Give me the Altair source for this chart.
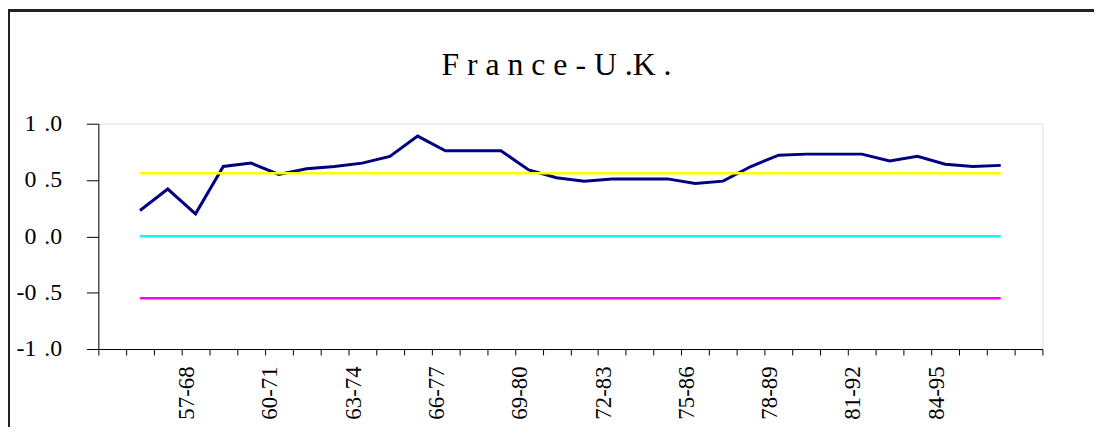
import json
import altair as alt
import pandas as pd

# ---- data ----
periods = [
    "54-65", "55-66", "56-67", "57-68", "58-69", "59-70", "60-71", "61-72",
    "62-73", "63-74", "64-75", "65-76", "66-77", "67-78", "68-79", "69-80",
    "70-81", "71-82", "72-83", "73-84", "74-85", "75-86", "76-87", "77-88",
    "78-89", "79-90", "80-91", "81-92", "82-93", "83-94", "84-95", "85-96",
    "86-97", "87-98",
]
france_uk = [
    None, 0.23, 0.42, 0.20, 0.62, 0.65, 0.55, 0.60, 0.62, 0.65, 0.71, 0.89,
    0.76, 0.76, 0.76, 0.59, 0.52, 0.49, 0.51, 0.51, 0.51, 0.47, 0.49, 0.62,
    0.72, 0.73, 0.73, 0.73, 0.67, 0.71, 0.64, 0.62, 0.63, None,
]
shown_labels = ["57-68", "60-71", "63-74", "66-77", "69-80", "72-83",
                "75-86", "78-89", "81-92", "84-95"]
band_names = ["upper", "zero", "lower"]
band_levels = [0.56, 0.0, -0.55]
band_colors = ["#FFFF00", "#00FFFF", "#FF00FF"]
y_ticks = [-1.0, -0.5, 0.0, 0.5, 1.0]

# ---- tables ----
present = [i for i, v in enumerate(france_uk) if v is not None]
main_df = pd.DataFrame({
    "i": present,
    "period": [periods[i] for i in present],
    "value": [france_uk[i] for i in present],
})
band_rows = []
for name, level in zip(band_names, band_levels):
    for i in present:
        band_rows.append({"i": i, "period": periods[i], "series": name, "value": level})
band_df = pd.DataFrame(band_rows)

FONT = "Liberation Serif"
n = len(periods)
x_scale = alt.Scale(domain=[-0.5, n - 0.5], nice=False, zero=False)
y_scale = alt.Scale(domain=[-1, 1], nice=False, zero=False)

periods_js = json.dumps(periods)
shown_js = json.dumps(shown_labels)
x_label_expr = (
    f"indexof({shown_js}, {periods_js}[round(datum.value + 0.5)]) >= 0 ? "
    f"{periods_js}[round(datum.value + 0.5)] : ''"
)
x_tick_values = [k - 0.5 for k in range(n + 1)]

x_axis = alt.Axis(
    values=x_tick_values,
    tickCount=len(x_tick_values),
    labelExpr=x_label_expr,
    labelAngle=270,
    labelOffset=5,
    labelPadding=11,
    labelFont=FONT,
    labelFontSize=23,
    labelColor="black",
    labelOverlap=False,
    labelBound=False,
    labelFlush=False,
    tickSize=6,
    tickColor="black",
    domainColor="black",
    grid=False,
    title=None,
)
y_axis = alt.Axis(
    values=y_ticks,
    tickCount=len(y_ticks),
    labelExpr=(
        "(datum.value < 0 ? '-' : '') + "
        "replace(format(abs(datum.value), '.1f'), '.', '\u2004.')"
    ),
    labelPadding=25,
    labelFont=FONT,
    labelFontSize=24,
    labelColor="black",
    tickSize=12,
    tickColor="black",
    domainColor="black",
    grid=False,
    title=None,
)

main_line = alt.Chart(main_df).mark_line(color="#000080", strokeWidth=3).encode(
    x=alt.X("i:Q", scale=x_scale, axis=x_axis),
    y=alt.Y("value:Q", scale=y_scale, axis=y_axis),
)

band_lines = alt.Chart(band_df).mark_line(strokeWidth=2.5).encode(
    x=alt.X("i:Q", scale=x_scale),
    y=alt.Y("value:Q", scale=y_scale),
    color=alt.Color("series:N", scale=alt.Scale(domain=band_names, range=band_colors), legend=None),
)

# outer chart-area frame (left and top edges)
frame_left = alt.Chart(main_df).mark_rule(color="#222222", strokeWidth=2).encode(
    x=alt.value(-90), y=alt.value(-114), y2=alt.value(305)
)
frame_top = alt.Chart(main_df).mark_rule(color="#222222", strokeWidth=2).encode(
    x=alt.value(-91), x2=alt.value(1003), y=alt.value(-114)
)

chart = alt.layer(main_line, band_lines, frame_left, frame_top).properties(
    width=951,
    height=227,
    autosize=alt.AutoSizeParams(type="none"),
    padding={"left": 91, "top": 115, "right": 52, "bottom": 78},
    title=alt.TitleParams(
        "F r a n c e - U .K .",
        font=FONT,
        fontSize=32,
        fontWeight="normal",
        color="black",
        anchor="middle",
        frame="group",
        baseline="alphabetic",
        dx=-14,
        offset=-98,
    ),
).configure_view(stroke="#808080", strokeWidth=1).configure(background="white")

chart.save("out.html", embed_options={"renderer": "svg", "actions": False})
